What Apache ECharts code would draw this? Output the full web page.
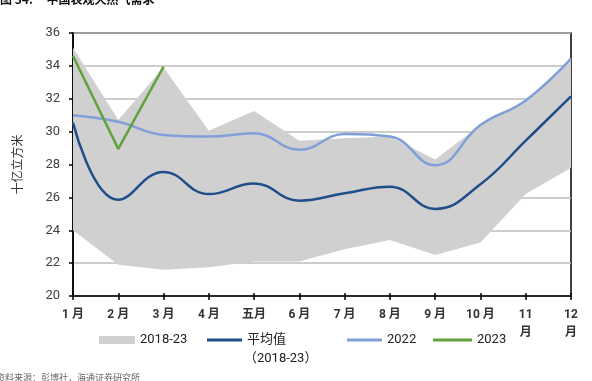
<!DOCTYPE html>
<html>
<head>
<meta charset="utf-8">
<script src="https://cdn.jsdelivr.net/npm/echarts@6/dist/echarts.min.js"></script>
<style>
html,body{margin:0;padding:0;background:#fff;}
#chart{width:592px;height:381px;}
</style>
</head>
<body>
<div id="chart"></div>
<script>
// Tick labels (as printed on the x axis)
var months = ['1 月','2 月','3 月','4 月','五月','6 月','7 月','8 月','9 月','10 月','11\n月','12\n月'];
// 2018-23 range (min / max), billion cubic metres
var rangeMin = [24.0, 21.9, 21.6, 21.75, 22.1, 22.1, 22.85, 23.4, 22.5, 23.25, 26.2, 27.8];
var rangeMax = [35.1, 30.7, 33.9, 30.05, 31.25, 29.45, 29.6, 29.7, 28.3, 30.4, 31.9, 34.45];
// Average 2018-23
var avg = [30.55, 25.85, 27.55, 26.2, 26.85, 25.8, 26.25, 26.65, 25.3, 26.8, 29.45, 32.15];
// 2022
var y2022 = [31.0, 30.6, 29.8, 29.7, 29.9, 28.9, 29.85, 29.7, 27.95, 30.4, 31.9, 34.45];
// 2023
var y2023 = [34.6, 28.95, 33.95, null, null, null, null, null, null, null, null, null];
// Y axis ticks
var yMin = 20, yMax = 36, yStep = 2;

var bandSpan = rangeMax.map(function (v, i) { return +(v - rangeMin[i]).toFixed(3); });

var FONT = 'Roboto, "Noto Sans CJK SC", sans-serif';
var GRAY = '#d1d0d1', DARK = '#1f4e89', LIGHT = '#7f9fd8', GREEN = '#62a23c';

var chart = echarts.init(document.getElementById('chart'), null, {renderer: 'canvas'});
chart.setOption({
  animation: false,
  backgroundColor: '#fff',
  grid: {left: 73, right: 21, top: 33, bottom: 85, show: true, borderColor: '#000', borderWidth: 1.5, backgroundColor: 'transparent'},
  xAxis: [{
    type: 'category', data: months, boundaryGap: false, position: 'bottom',
    axisLine: {lineStyle: {color: '#000', width: 1.5}},
    axisTick: {show: true, inside: false, length: 4, lineStyle: {color: '#000', width: 1.5}},
    axisLabel: {color: '#333', fontFamily: FONT, fontSize: 12, fontWeight: 'bold', margin: 10, lineHeight: 18, interval: 0},
    splitLine: {show: false}
  }, {
    type: 'category', data: months, boundaryGap: false, position: 'bottom', offset: 0,
    axisLine: {show: false},
    axisTick: {show: true, inside: true, length: 3, lineStyle: {color: '#000', width: 1.5}},
    axisLabel: {show: false},
    splitLine: {show: false}
  }],
  yAxis: {
    type: 'value', min: yMin, max: yMax, interval: yStep,
    name: '十亿立方米', nameLocation: 'middle', nameGap: 50,
    nameTextStyle: {color: '#333', fontFamily: '"Noto Sans CJK SC", sans-serif', fontSize: 12},
    axisLine: {show: true, lineStyle: {color: '#000', width: 1.5}},
    axisTick: {show: true, length: 4, lineStyle: {color: '#000', width: 1.5}},
    axisLabel: {color: '#404040', fontFamily: FONT, fontSize: 13, margin: 13},
    splitLine: {lineStyle: {color: '#bcbcbc', width: 1.5}}
  },
  legend: [
    {left: 99, top: 332, padding: 0, itemWidth: 36, itemHeight: 8, icon: 'rect', data: ['2018-23'],
     textStyle: {color: '#222', fontFamily: FONT, fontSize: 13, lineHeight: 16}},
    {left: 207, top: 332, padding: 0, itemWidth: 35, itemHeight: 3, icon: 'rect', data: ['平均值'],
     textStyle: {color: '#222', fontFamily: FONT, fontSize: 13, lineHeight: 16}},
    {left: 347, top: 332, padding: 0, itemWidth: 35, itemHeight: 3, icon: 'rect', data: ['2022'],
     textStyle: {color: '#222', fontFamily: FONT, fontSize: 13, lineHeight: 16}},
    {left: 433, top: 332, padding: 0, itemWidth: 39, itemHeight: 3, icon: 'rect', data: ['2023'],
     textStyle: {color: '#222', fontFamily: FONT, fontSize: 13, lineHeight: 16}}
  ],
  graphic: [
    {type: 'text', left: 244, top: 352, style: {text: '（2018-23）', fill: '#222', font: '13px Roboto, "Noto Sans CJK SC", sans-serif'}},
    {type: 'text', left: 0, top: -7, style: {text: '图 34:     中国表观天然气需求', fill: '#111', font: 'bold 12px "Noto Sans CJK SC", sans-serif'}},
    {type: 'text', left: -4, top: 373, style: {text: '资料来源：彭博社，海通证券研究所', fill: '#666', font: '9px "Noto Sans CJK SC", sans-serif'}}
  ],
  series: [
    {name: 'rangeBase', type: 'line', stack: 'band', data: rangeMin, symbol: 'none',
     lineStyle: {opacity: 0}, itemStyle: {color: 'transparent'}, silent: true, z: 1},
    {name: '2018-23', type: 'line', stack: 'band', data: bandSpan, symbol: 'none',
     lineStyle: {opacity: 0}, itemStyle: {color: GRAY}, areaStyle: {color: GRAY, opacity: 1}, z: 1},
    {name: '平均值', type: 'line', data: avg, smooth: 0.45, symbol: 'none',
     lineStyle: {color: DARK, width: 2.5}, itemStyle: {color: DARK}, z: 3},
    {name: '2022', type: 'line', data: y2022, smooth: 0.45, symbol: 'none',
     lineStyle: {color: LIGHT, width: 2.5}, itemStyle: {color: LIGHT}, z: 3},
    {name: '2023', type: 'line', data: y2023, symbol: 'none', connectNulls: false,
     lineStyle: {color: GREEN, width: 2.5}, itemStyle: {color: GREEN}, z: 4}
  ]
});
</script>
</body>
</html>
